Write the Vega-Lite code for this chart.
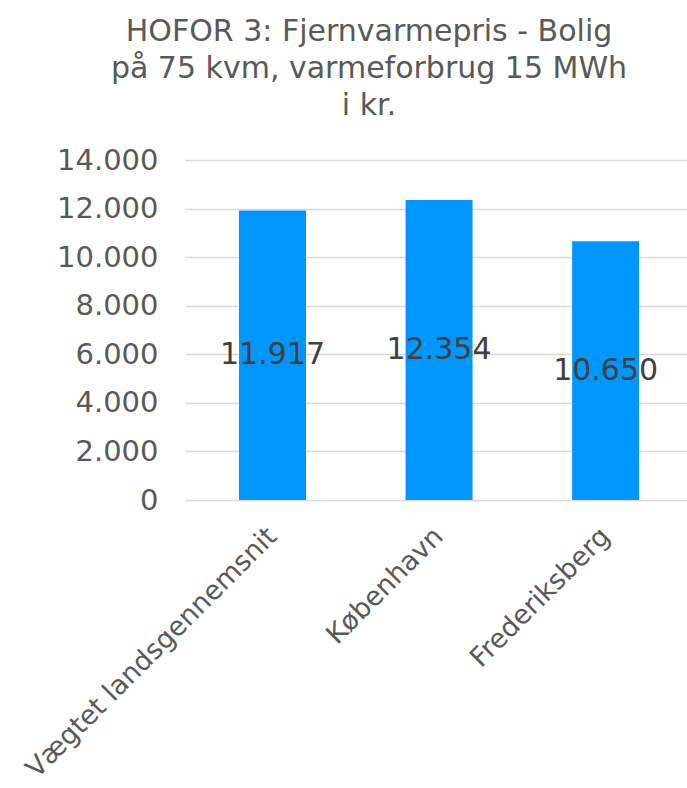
{
  "$schema": "https://vega.github.io/schema/vega-lite/v6.json",
  "width": 502,
  "height": 340,
  "autosize": {"type": "none"},
  "padding": {"left": 185, "top": 160, "right": 0, "bottom": 288},
  "background": "white",
  "config": {
    "locale": {"number": {"decimal": ",", "thousands": ".", "grouping": [3], "currency": ["", " kr."]}},
    "view": {"stroke": null},
    "font": "DejaVu Sans"
  },
  "title": {
    "text": ["HOFOR 3: Fjernvarmepris - Bolig", "på 75 kvm, varmeforbrug 15 MWh", "i kr."],
    "fontSize": 30,
    "fontWeight": "normal",
    "color": "#595959",
    "lineHeight": 37,
    "anchor": "middle",
    "dx": -67,
    "offset": 25,
    "font": "DejaVu Sans"
  },
  "data": {
    "values": [
      {"kategori": "Vægtet landsgennemsnit", "pris": 11917},
      {"kategori": "København", "pris": 12354},
      {"kategori": "Frederiksberg", "pris": 10650}
    ]
  },
  "transform": [{"calculate": "datum.pris / 2", "as": "midt"}],
  "encoding": {
    "x": {
      "field": "kategori",
      "type": "nominal",
      "sort": null,
      "scale": {"paddingInner": 0.598, "paddingOuter": 0.306, "align": 0.53},
      "axis": {
        "title": null,
        "labelAngle": -45,
        "labelAlign": "right",
        "labelBaseline": "middle",
        "labelFontSize": 27,
        "labelColor": "#595959",
        "labelFont": "DejaVu Sans",
        "labelPadding": 32,
        "labelLimit": 0,
        "labelOverlap": false,
        "ticks": false,
        "domain": false,
        "grid": false
      }
    }
  },
  "layer": [
    {
      "mark": {"type": "bar", "color": "#0096FF"},
      "encoding": {
        "y": {
          "field": "pris",
          "type": "quantitative",
          "scale": {"domain": [0, 14000], "nice": false},
          "axis": {
            "title": null,
            "values": [0, 2000, 4000, 6000, 8000, 10000, 12000, 14000],
            "format": ",d",
            "labelFontSize": 29,
            "labelColor": "#595959",
            "labelFont": "DejaVu Sans",
            "labelPadding": 27,
            "ticks": false,
            "domain": false,
            "gridColor": "#d9d9d9",
            "gridWidth": 1.5
          }
        }
      }
    },
    {
      "mark": {"type": "text", "fontSize": 30, "color": "#404040", "baseline": "middle", "align": "center", "font": "DejaVu Sans"},
      "encoding": {
        "y": {"field": "midt", "type": "quantitative"},
        "text": {"field": "pris", "type": "quantitative", "format": ",d"}
      }
    }
  ]
}
